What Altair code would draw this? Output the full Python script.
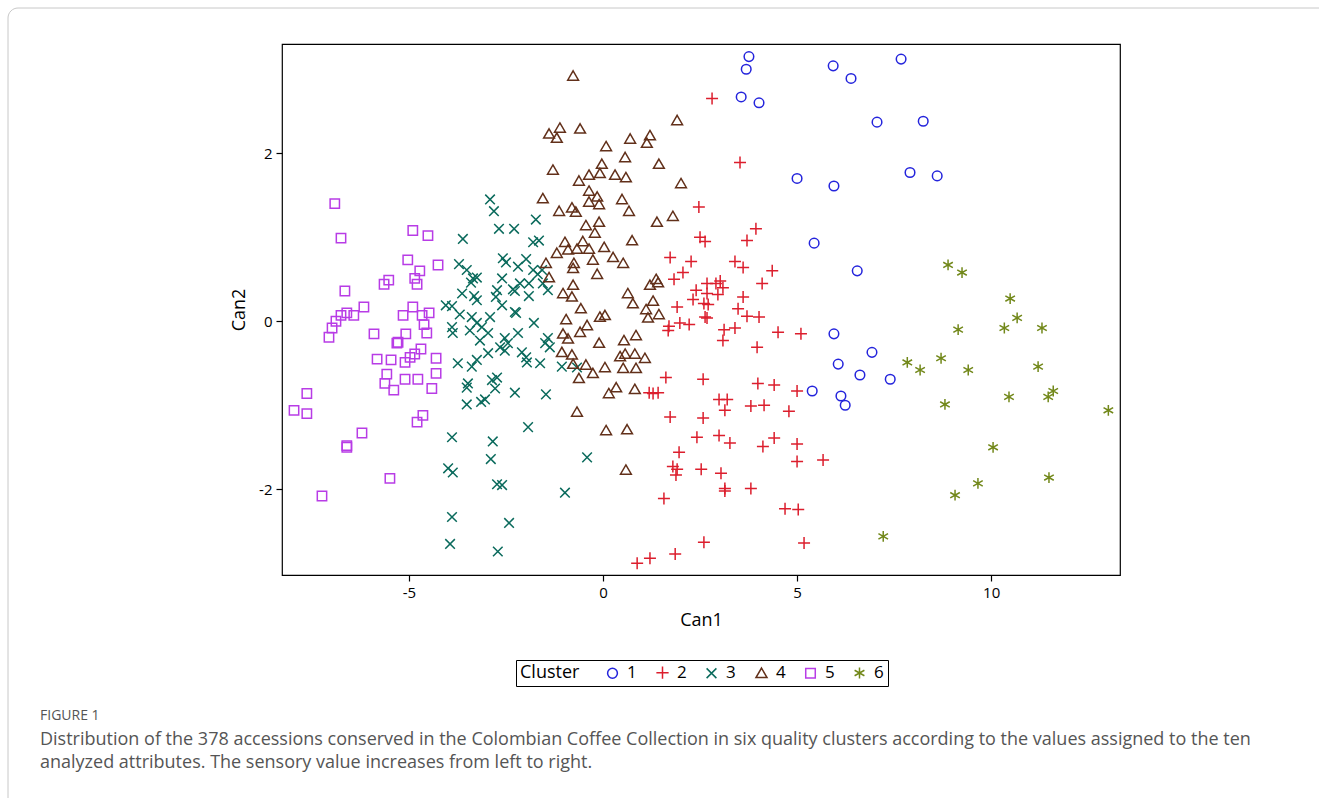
import altair as alt
import pandas as pd

# ---- data (Can1, Can2) per cluster ----
c1_x = [3.76, 3.69, 3.56, 4.02, 5.93, 6.39, 7.68, 7.06, 8.25, 5.00, 5.95, 7.91, 8.61,
        5.44, 6.55, 5.95, 6.93, 6.06, 6.62, 7.40, 5.39, 6.13, 6.24]
c1_y = [3.15, 3.00, 2.67, 2.60, 3.04, 2.89, 3.12, 2.37, 2.38, 1.70, 1.61, 1.77, 1.73,
        0.93, 0.60, -0.15, -0.37, -0.51, -0.64, -0.69, -0.83, -0.89, -1.00]

c2_x = [2.81, 3.53, 2.47, 3.94, 3.71, 2.50, 2.63, 1.73, 2.27, 3.40, 3.61, 4.36, 2.06, 1.83,
        2.68, 3.02, 3.09, 4.10, 2.40, 2.32, 2.68, 2.96, 3.61, 2.60, 2.71, 1.91, 3.48, 3.71,
        4.02, 2.63, 2.68, 1.70, 1.98, 2.22, 3.12, 3.40, 4.51, 5.10, 3.09, 3.97, 1.68, 1.62,
        2.58, 3.99, 4.41, 5.00, 1.19, 1.42, 1.29, 2.99, 3.20, 3.14, 3.81, 4.15, 4.79, 1.73,
        2.58, 2.42, 2.99, 3.27, 4.12, 4.41, 5.00, 5.00, 5.67, 1.96, 1.80, 1.91, 1.88, 2.53,
        3.04, 3.14, 3.14, 3.81, 1.57, 4.69, 5.03, 2.60, 1.86, 1.21, 0.88, 5.18, 2.91]
c2_y = [2.65, 1.89, 1.36, 1.10, 0.96, 1.00, 0.95, 0.76, 0.71, 0.71, 0.64, 0.60, 0.58, 0.50,
        0.45, 0.48, 0.40, 0.45, 0.37, 0.26, 0.33, 0.32, 0.29, 0.21, 0.20, 0.17, 0.15, 0.06,
        0.05, 0.05, 0.04, -0.06, -0.02, -0.04, -0.10, -0.08, -0.13, -0.15, -0.23, -0.31, -0.11, -0.67,
        -0.69, -0.74, -0.76, -0.83, -0.85, -0.85, -0.86, -0.93, -0.93, -1.06, -1.01, -1.00, -1.07, -1.14,
        -1.15, -1.38, -1.36, -1.45, -1.49, -1.39, -1.46, -1.67, -1.65, -1.56, -1.73, -1.76, -1.83, -1.76,
        -1.81, -1.99, -2.02, -1.99, -2.11, -2.23, -2.24, -2.63, -2.77, -2.82, -2.88, -2.64, 0.45]

c3_x = [-2.91, -2.81, -2.68, -2.29, -1.73, -3.61, -1.80, -1.65, -2.58, -2.50, -1.98, -2.19,
        -3.71, -3.51, -2.60, -3.35, -3.40, -3.25, -1.80, -1.68, -1.57, -2.73, -2.32, -2.27,
        -2.14, -1.91, -1.55, -1.42, -3.63, -3.32, -3.25, -2.76, -2.60, -1.91, -4.05, -3.89,
        -3.69, -3.38, -3.25, -2.91, -2.27, -2.24, -1.78, -3.89, -3.87, -3.43, -3.12, -2.96,
        -3.17, -2.19, -2.53, -2.65, -2.53, -2.45, -2.09, -1.98, -1.42, -1.49, -1.37, -2.96,
        -3.25, -3.74, -3.38, -1.62, -1.06, -1.96, -3.48, -3.51, -2.86, -2.73, -2.78, -3.51,
        -3.14, -3.04, -2.27, -1.47, -3.89, -2.84, -1.93, -2.89, -3.99, -3.87, -2.73, -2.60,
        -0.41, -0.98, -3.89, -2.42, -3.94, -2.71, -0.67]
c3_y = [1.45, 1.31, 1.10, 1.10, 1.21, 0.98, 0.94, 0.96, 0.75, 0.70, 0.74, 0.65,
        0.68, 0.61, 0.51, 0.51, 0.46, 0.52, 0.61, 0.56, 0.61, 0.37, 0.38, 0.36,
        0.45, 0.45, 0.45, 0.37, 0.33, 0.30, 0.25, 0.29, 0.19, 0.30, 0.19, 0.18,
        0.08, 0.05, -0.02, 0.05, 0.11, 0.10, -0.02, -0.07, -0.14, -0.11, -0.07, -0.14,
        -0.23, -0.14, -0.20, -0.31, -0.35, -0.26, -0.37, -0.43, -0.20, -0.26, -0.31, -0.38,
        -0.46, -0.50, -0.54, -0.50, -0.54, -0.49, -0.74, -0.79, -0.70, -0.67, -0.80, -0.99,
        -0.96, -0.93, -0.85, -0.87, -1.38, -1.43, -1.26, -1.64, -1.75, -1.80, -1.94, -1.95,
        -1.62, -2.04, -2.33, -2.40, -2.65, -2.74, -0.55]

c4_x = [-0.77, -1.11, -1.39, -1.19, -0.59, 0.08, 0.70, 1.21, 1.13, 1.91, 0.57, -1.29, -0.03,
        -0.08, -0.36, -0.62, 0.31, 0.59, 1.44, 2.01, -1.55, -1.13, -0.80, -0.70, -0.36, -0.36,
        -0.15, -0.10, 0.49, 0.67, -0.10, -0.44, -0.21, 1.39, 1.80, 0.75, -0.98, -0.52, -1.19,
        -0.90, -0.67, -0.36, 0.03, 0.26, -1.47, -0.75, -0.77, -0.26, 0.52, -0.15, -1.39, -0.77,
        -1.03, -0.80, -0.57, -0.95, -0.59, -0.41, -0.08, 0.05, -0.10, -1.03, -0.90, 0.44, -1.06,
        -0.80, -0.44, 0.05, -0.77, -0.26, -0.62, 0.52, 0.85, 0.57, 0.82, 1.08, 0.34, 0.15, 0.82,
        -0.67, 0.08, 0.62, 0.59, 0.54, 0.85, 0.64, 0.77, 1.21, 1.37, 1.42, 1.29, 1.11, 1.16, 1.44]
c4_y = [2.92, 2.30, 2.23, 2.18, 2.29, 2.08, 2.17, 2.21, 2.12, 2.39, 1.95, 1.80, 1.87,
        1.76, 1.74, 1.67, 1.74, 1.71, 1.87, 1.64, 1.46, 1.31, 1.35, 1.30, 1.55, 1.42,
        1.48, 1.39, 1.45, 1.31, 1.18, 1.14, 1.05, 1.18, 1.25, 0.96, 0.94, 0.95, 0.81,
        0.85, 0.86, 0.86, 0.88, 0.76, 0.69, 0.69, 0.63, 0.73, 0.69, 0.56, 0.52, 0.43,
        0.33, 0.29, 0.15, 0.02, -0.13, -0.05, 0.05, 0.07, -0.26, -0.15, -0.21, -0.42, -0.37,
        -0.40, -0.52, -0.55, -0.51, -0.62, -0.68, -0.56, -0.56, -0.39, -0.39, -0.44, -0.79, -0.86, -0.81,
        -1.08, -1.30, -1.29, -1.77, -0.23, -0.17, 0.33, 0.21, 0.43, 0.50, 0.46, 0.24, 0.14, 0.04, 0.08]

c5_x = [-6.91, -6.75, -4.90, -4.51, -5.03, -4.25, -4.72, -4.85, -4.79, -5.52, -5.64, -6.65,
        -6.16, -6.60, -6.42, -6.75, -6.88, -6.98, -7.06, -5.90, -5.15, -4.90, -4.66, -4.48,
        -4.61, -4.54, -5.08, -5.31, -5.28, -4.69, -4.85, -4.97, -5.10, -5.82, -5.46, -4.30,
        -4.30, -5.57, -5.62, -5.39, -5.10, -4.77, -4.41, -7.63, -7.96, -7.63, -4.64, -4.79,
        -6.21, -6.60, -6.60, -5.49, -7.24]
c5_y = [1.40, 0.99, 1.08, 1.02, 0.73, 0.67, 0.60, 0.51, 0.44, 0.49, 0.44, 0.36,
        0.17, 0.10, 0.07, 0.07, 0.00, -0.08, -0.19, -0.15, 0.07, 0.17, 0.07, 0.10,
        -0.04, -0.14, -0.15, -0.26, -0.25, -0.33, -0.39, -0.43, -0.49, -0.45, -0.46, -0.44,
        -0.62, -0.63, -0.74, -0.82, -0.69, -0.69, -0.80, -0.86, -1.06, -1.10, -1.12, -1.20,
        -1.33, -1.48, -1.50, -1.87, -2.08]

c6_x = [8.89, 9.25, 10.49, 10.67, 9.15, 10.34, 11.31, 7.84, 8.17, 8.71, 9.41, 11.21,
        8.81, 10.46, 11.47, 11.60, 13.02, 10.05, 11.49, 9.66, 9.07, 7.22]
c6_y = [0.67, 0.58, 0.27, 0.04, -0.10, -0.08, -0.08, -0.49, -0.58, -0.44, -0.58, -0.54,
        -0.99, -0.90, -0.90, -0.83, -1.06, -1.50, -1.86, -1.93, -2.07, -2.56]

clusters = ["1", "2", "3", "4", "5", "6"]
colors = ["#2424dc", "#dc1e2d", "#0a6a5c", "#62301a", "#b83ce6", "#72881a"]
shapes = [
    "M0.8,0A0.8,0.8 0 1,1 -0.8,0A0.8,0.8 0 1,1 0.8,0Z",
    "M-1,0L1,0M0,-1L0,1",
    "M-0.8,-0.8L0.8,0.8M-0.8,0.8L0.8,-0.8",
    "M0,-0.85L0.9,0.7L-0.9,0.7Z",
    "M-0.78,-0.78L0.78,-0.78L0.78,0.78L-0.78,0.78Z",
    "M0,-0.9L0,0.9M-0.8,-0.45L0.8,0.45M-0.8,0.45L0.8,-0.45",
]

xs = [c1_x, c2_x, c3_x, c4_x, c5_x, c6_x]
ys = [c1_y, c2_y, c3_y, c4_y, c5_y, c6_y]
rows = []
for c, xv, yv in zip(clusters, xs, ys):
    for a, b in zip(xv, yv):
        rows.append({"Can1": a, "Can2": b, "Cluster": c})
df = pd.DataFrame(rows)

FONT = "Open Sans"
W, H = 838, 531
PL, PT = 282, 44

points = alt.Chart(df).mark_point(filled=False, strokeWidth=1.5, size=144, opacity=1).encode(
    x=alt.X("Can1:Q", scale=alt.Scale(domain=[-8.27, 13.32], nice=False, zero=False),
            axis=alt.Axis(values=[-5, 0, 5, 10], title="Can1",
                          labelExpr="datum.value < 0 ? '-' + abs(datum.value) : '' + datum.value")),
    y=alt.Y("Can2:Q", scale=alt.Scale(domain=[-3.02, 3.30], nice=False, zero=False),
            axis=alt.Axis(values=[-2, 0, 2], title="Can2",
                          labelExpr="datum.value < 0 ? '-' + abs(datum.value) : '' + datum.value")),
    color=alt.Color("Cluster:N", scale=alt.Scale(domain=clusters, range=colors),
                    legend=alt.Legend(orient="none", legendX=234, legendY=616,
                                      direction="horizontal", titleOrient="left",
                                      strokeColor="black", padding=4, symbolSize=150,
                                      symbolStrokeWidth=1.5, columnPadding=16,
                                      labelFontSize=17, titleFontSize=18, labelOffset=6,
                                      titleFontWeight="normal", titlePadding=24,
                                      labelFont=FONT, titleFont=FONT,
                                      symbolType="circle")),
    shape=alt.Shape("Cluster:N", scale=alt.Scale(domain=clusters, range=shapes)),
)

cap_df = pd.DataFrame({
    "t": ["FIGURE 1",
          "Distribution of the 378 accessions conserved in the Colombian Coffee Collection in six quality clusters according to the values assigned to the ten",
          "analyzed attributes. The sensory value increases from left to right."],
    "px": [40 - PL, 40 - PL, 40 - PL],
    "py": [716 - PT, 740 - PT, 763 - PT],
    "fs": [14, 18, 18],
})

caps = []
for i in range(3):
    caps.append(alt.Chart(cap_df.iloc[[i]]).mark_text(
        align="left", baseline="middle", font=FONT, fontSize=float(cap_df.fs[i]),
        color="#555555").encode(
        x=alt.value(float(cap_df.px[i])), y=alt.value(float(cap_df.py[i])), text="t:N"))

border = alt.Chart(pd.DataFrame({"a": [0]})).mark_rect(
    fill=None, fillOpacity=0, stroke="#c8c8c8", strokeWidth=1, cornerRadius=10).encode(
    x=alt.value(8 - PL), x2=alt.value(1319 - PL + 20),
    y=alt.value(8 - PT), y2=alt.value(798 - PT + 20))

chart = alt.layer(border, points, *caps).properties(
    width=W, height=H,
    autosize=alt.AutoSizeParams(type="none"),
    padding={"left": PL, "top": PT, "right": 1319 - PL - W, "bottom": 798 - PT - H},
).configure_view(stroke="black", strokeWidth=1.2).configure_axis(
    grid=False, domain=False, ticks=True, tickColor="black", tickSize=6, tickWidth=1.2,
    labelFont=FONT, labelFontSize=15, labelColor="black", labelPadding=4,
    titleFont=FONT, titleFontSize=18, titleFontWeight="normal", titleColor="black",
).configure_axisX(titlePadding=11).configure_axisY(titlePadding=10)

chart.save("out.html", embed_options={"renderer": "svg", "actions": False})
